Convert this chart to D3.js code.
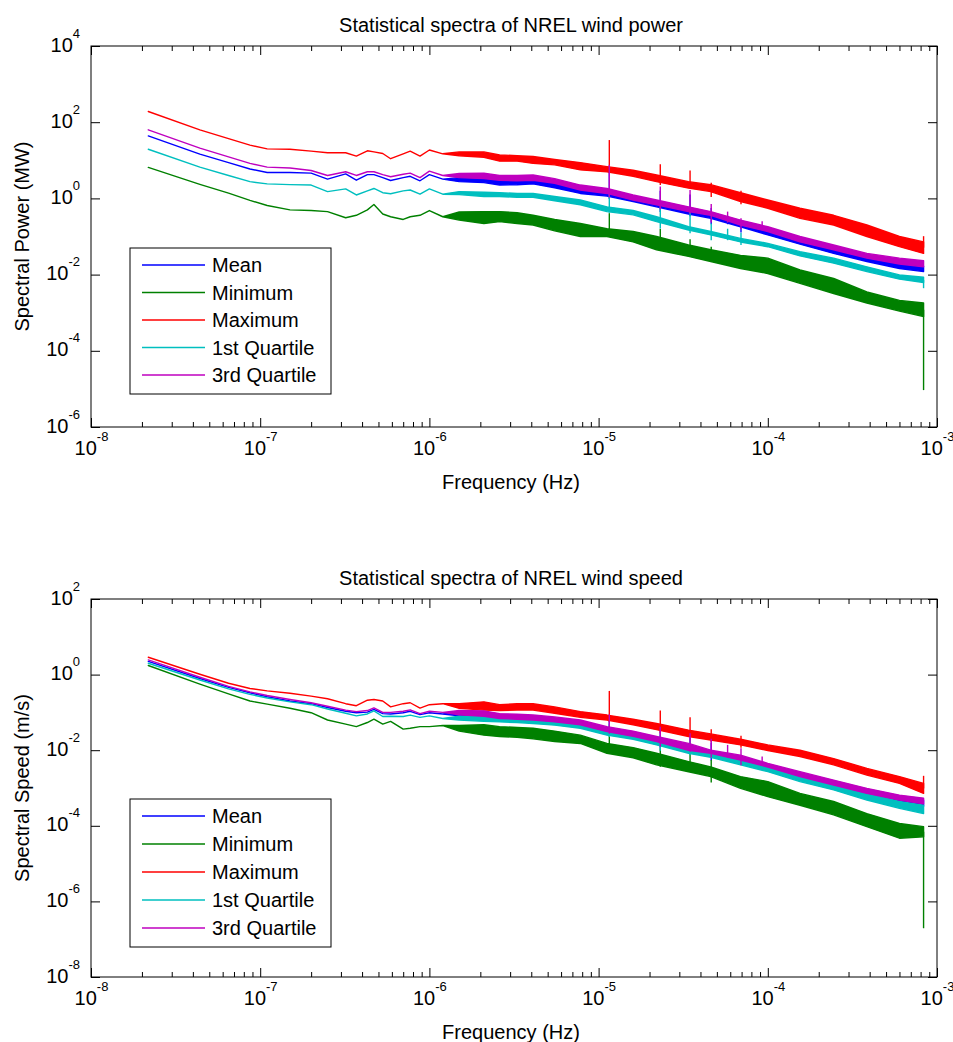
<!DOCTYPE html>
<html>
<head>
<meta charset="utf-8">
<script src="https://cdn.jsdelivr.net/npm/d3@7"></script>
<style>
  body { margin: 0; background: #fff; }
  svg text { font-family: "Liberation Sans", Arial, Helvetica, sans-serif; fill: #000; }
</style>
</head>
<body>
<svg id="chart" width="953" height="1042"></svg>
<script>
// Series names / colours (MATLAB default order)
const seriesNames = ["Mean", "Minimum", "Maximum", "1st Quartile", "3rd Quartile"];
const seriesColors = ["#0000ff", "#008000", "#ff0000", "#00bfbf", "#bf00bf"];

// Tick values
const xTicks = [1e-8, 1e-7, 1e-6, 1e-5, 1e-4, 1e-3];
const powerTicks = [1e4, 1e2, 1e0, 1e-2, 1e-4, 1e-6];
const speedTicks = [1e2, 1e0, 1e-2, 1e-4, 1e-6, 1e-8];

// Frequencies (Hz): low end drawn as a single line, high end as a noisy band
const freqsLine = [2.18e-8, 4.4e-8, 6.5e-8, 8.7e-8, 1.1e-7, 1.5e-7, 2.0e-7, 2.5e-7, 3.2e-7, 3.7e-7,
    4.3e-7, 4.7e-7, 5.3e-7, 5.9e-7, 7.0e-7, 7.7e-7, 8.8e-7, 1.0e-6, 1.2e-6];
const freqsBand = [1.5e-6, 2.1e-6, 2.6e-6, 3.3e-6, 4.1e-6, 5.5e-6, 7.8e-6, 1.12e-5, 1.6e-5, 2.2e-5,
    3.4e-5, 4.6e-5, 6.9e-5, 1.0e-4, 1.55e-4, 2.45e-4, 3.85e-4, 6.0e-4, 8.33e-4];
// Daily harmonics + last bin
const spikeFreqs = [1.157e-5, 2.315e-5, 3.472e-5, 4.63e-5, 5.787e-5, 6.944e-5, 9.26e-5, 8.33e-4];

// ---- Wind power (MW) ----
const powerMeanLine = [43.7, 14.5, 8.7, 5.9, 4.8, 4.8, 4.6, 3.2, 4.4, 3.0, 4.2, 4.2, 3.5, 2.95, 3.5, 3.8, 2.9, 4.2, 3.2];
const powerMeanHi = [3.5, 3.6, 3.0, 3.2, 3.2, 2.5, 1.82, 1.66, 1.12, 0.78, 0.49, 0.38, 0.245, 0.148, 0.081, 0.049, 0.030, 0.020, 0.0166];
const powerMeanLo = [2.75, 2.6, 2.24, 2.29, 2.4, 1.9, 1.35, 1.15, 0.83, 0.60, 0.39, 0.30, 0.18, 0.11, 0.063, 0.036, 0.022, 0.0145, 0.012];
const powerMeanSpikes = [5.6, 1.58, 1.26, 0.56, 0.35, 0.25, null, null];

const powerMinLine = [6.5, 2.34, 1.38, 0.89, 0.65, 0.50, 0.48, 0.45, 0.31, 0.36, 0.50, 0.69, 0.39, 0.33, 0.28, 0.33, 0.36, 0.48, 0.33];
const powerMinHi = [0.44, 0.45, 0.45, 0.42, 0.36, 0.28, 0.22, 0.16, 0.135, 0.10, 0.060, 0.045, 0.032, 0.027, 0.0132, 0.0079, 0.0035, 0.0021, 0.0018];
const powerMinLo = [0.27, 0.22, 0.245, 0.22, 0.20, 0.141, 0.10, 0.10, 0.072, 0.045, 0.030, 0.022, 0.0145, 0.0107, 0.0059, 0.0032, 0.0018, 0.0011, 0.00079];
const powerMinSpikes = [0.41, 0.16, 0.085, 0.054, null, null, null, 9.3e-6];

const powerMaxLine = [191, 63, 37, 25, 20, 19.5, 17.4, 15.8, 15.8, 12.9, 17.8, 16.6, 15.1, 11.0, 14.8, 17.4, 12.9, 18.6, 14.8];
const powerMaxHi = [16.6, 16.6, 13.8, 13.2, 12.6, 10.5, 8.7, 6.8, 5.5, 4.1, 2.75, 2.29, 1.41, 0.91, 0.55, 0.36, 0.20, 0.10, 0.072];
const powerMaxLo = [13.2, 12.0, 9.5, 9.5, 8.3, 7.6, 5.6, 5.0, 3.8, 2.75, 1.86, 1.51, 0.83, 0.55, 0.30, 0.20, 0.10, 0.054, 0.036];
const powerMaxSpikes = [34, 7.9, 5.4, 2.57, null, 1.58, null, 0.102];

const powerQ1Line = [19.5, 6.6, 4.0, 2.75, 2.4, 2.3, 2.24, 1.51, 1.78, 1.23, 1.58, 1.82, 1.41, 1.32, 1.58, 1.66, 1.29, 1.78, 1.29];
const powerQ1Hi = [1.51, 1.45, 1.41, 1.35, 1.35, 1.12, 0.91, 0.60, 0.48, 0.33, 0.18, 0.135, 0.089, 0.066, 0.040, 0.027, 0.016, 0.0098, 0.0085];
const powerQ1Lo = [1.26, 1.12, 1.12, 1.07, 1.07, 0.87, 0.68, 0.45, 0.37, 0.245, 0.148, 0.11, 0.072, 0.054, 0.031, 0.020, 0.012, 0.0076, 0.0062];
const powerQ1Spikes = [1.35, 0.60, 0.45, 0.22, 0.16, 0.126, null, 0.0044];

const powerQ3Line = [63, 20.9, 12.3, 8.3, 6.6, 6.3, 5.4, 4.0, 5.0, 4.0, 5.0, 5.0, 4.2, 3.7, 4.3, 4.6, 3.5, 5.2, 4.0];
const powerQ3Hi = [4.5, 4.6, 4.0, 4.0, 4.1, 3.3, 2.24, 1.82, 1.23, 0.91, 0.60, 0.45, 0.27, 0.18, 0.10, 0.060, 0.036, 0.027, 0.023];
const powerQ3Lo = [3.5, 3.3, 3.0, 2.9, 3.0, 2.5, 1.66, 1.35, 0.91, 0.68, 0.45, 0.36, 0.20, 0.135, 0.072, 0.045, 0.027, 0.019, 0.016];
const powerQ3Spikes = [7.6, 2.04, 1.66, 0.71, 0.45, 0.30, 0.25, null];

// ---- Wind speed (m/s) ----
const speedMeanLine = [2.24, 0.79, 0.46, 0.33, 0.26, 0.20, 0.17, 0.135, 0.107, 0.098, 0.102, 0.120, 0.093, 0.091, 0.098, 0.107, 0.087, 0.098, 0.091];
const speedMeanHi = [0.102, 0.100, 0.085, 0.081, 0.078, 0.069, 0.056, 0.035, 0.0275, 0.0195, 0.0129, 0.0093, 0.0060, 0.0041, 0.00245, 0.00148, 0.00089, 0.00059, 0.00048];
const speedMeanLo = [0.081, 0.074, 0.063, 0.060, 0.056, 0.051, 0.042, 0.028, 0.0214, 0.0151, 0.0098, 0.0074, 0.0047, 0.0031, 0.0018, 0.00107, 0.00065, 0.00044, 0.00033];
const speedMeanSpikes = [0.071, 0.032, 0.022, 0.016, null, null, null, null];

const speedMinLine = [1.74, 0.56, 0.31, 0.20, 0.166, 0.129, 0.098, 0.063, 0.049, 0.042, 0.054, 0.066, 0.049, 0.058, 0.036, 0.038, 0.042, 0.042, 0.045];
const speedMinHi = [0.045, 0.047, 0.042, 0.040, 0.038, 0.032, 0.025, 0.0151, 0.0117, 0.0083, 0.0050, 0.0036, 0.0020, 0.00148, 0.00072, 0.00044, 0.00021, 0.000115, 0.000095];
const speedMinLo = [0.032, 0.025, 0.023, 0.022, 0.020, 0.017, 0.0151, 0.0083, 0.0063, 0.0041, 0.0027, 0.0020, 0.00098, 0.00059, 0.00035, 0.000195, 0.000095, 0.000047, 0.000051];
const speedMinSpikes = [0.042, 0.0112, 0.010, 0.0055, null, null, null, 1.95e-7];

const speedMaxLine = [2.88, 1.02, 0.59, 0.43, 0.37, 0.32, 0.27, 0.23, 0.17, 0.15, 0.21, 0.22, 0.20, 0.14, 0.17, 0.18, 0.13, 0.16, 0.17];
const speedMaxHi = [0.17, 0.19, 0.16, 0.17, 0.17, 0.14, 0.105, 0.085, 0.066, 0.051, 0.034, 0.027, 0.0195, 0.0138, 0.0100, 0.0060, 0.0033, 0.0020, 0.00132];
const speedMaxLo = [0.129, 0.115, 0.112, 0.115, 0.115, 0.095, 0.074, 0.063, 0.047, 0.035, 0.023, 0.0186, 0.0138, 0.0098, 0.0068, 0.0041, 0.0022, 0.00132, 0.00072];
const speedMaxSpikes = [0.37, 0.112, 0.074, 0.036, null, 0.024, null, 0.0021];

const speedQ1Line = [2.0, 0.72, 0.42, 0.30, 0.24, 0.19, 0.16, 0.123, 0.095, 0.081, 0.091, 0.110, 0.078, 0.079, 0.078, 0.085, 0.074, 0.081, 0.069];
const speedQ1Hi = [0.079, 0.078, 0.078, 0.072, 0.069, 0.062, 0.051, 0.034, 0.026, 0.0186, 0.0112, 0.0083, 0.0055, 0.0036, 0.0020, 0.0012, 0.00072, 0.00044, 0.00035];
const speedQ1Lo = [0.063, 0.058, 0.056, 0.054, 0.051, 0.046, 0.038, 0.025, 0.0195, 0.0138, 0.0083, 0.0065, 0.0041, 0.0027, 0.00148, 0.00089, 0.00048, 0.00029, 0.00021];
const speedQ1Spikes = [0.050, 0.025, 0.018, null, null, null, null, null];

const speedQ3Line = [2.45, 0.85, 0.49, 0.35, 0.28, 0.22, 0.18, 0.145, 0.115, 0.105, 0.112, 0.132, 0.100, 0.100, 0.107, 0.117, 0.093, 0.107, 0.100];
const speedQ3Hi = [0.112, 0.110, 0.093, 0.089, 0.085, 0.076, 0.063, 0.042, 0.032, 0.023, 0.0151, 0.0100, 0.0074, 0.0045, 0.0027, 0.00162, 0.00098, 0.00065, 0.00054];
const speedQ3Lo = [0.087, 0.079, 0.069, 0.066, 0.063, 0.056, 0.047, 0.031, 0.0234, 0.017, 0.0100, 0.0083, 0.0055, 0.0036, 0.0020, 0.0012, 0.00072, 0.00048, 0.00038];
const speedQ3Spikes = [0.089, 0.042, 0.028, 0.020, 0.0138, 0.0112, 0.0068, null];

// Layout
const plotLeft = 91;
const plotRight = 937;
const fontMain = "20px";
const fontExp = "13px";

const panels = [
    {
        title: "Statistical spectra of NREL wind power",
        yLabel: "Spectral Power (MW)",
        top: 46, bottom: 427,
        yDomain: [1e-6, 1e4],
        yTicks: powerTicks,
        series: [
            {line: powerMeanLine, hi: powerMeanHi, lo: powerMeanLo, spikes: powerMeanSpikes},
            {line: powerMinLine, hi: powerMinHi, lo: powerMinLo, spikes: powerMinSpikes},
            {line: powerMaxLine, hi: powerMaxHi, lo: powerMaxLo, spikes: powerMaxSpikes},
            {line: powerQ1Line, hi: powerQ1Hi, lo: powerQ1Lo, spikes: powerQ1Spikes},
            {line: powerQ3Line, hi: powerQ3Hi, lo: powerQ3Lo, spikes: powerQ3Spikes},
        ],
        legend: {x: 130, y: 248, w: 201, h: 146, step: 27.5},
    },
    {
        title: "Statistical spectra of NREL wind speed",
        yLabel: "Spectral Speed (m/s)",
        top: 599, bottom: 977,
        yDomain: [1e-8, 1e2],
        yTicks: speedTicks,
        series: [
            {line: speedMeanLine, hi: speedMeanHi, lo: speedMeanLo, spikes: speedMeanSpikes},
            {line: speedMinLine, hi: speedMinHi, lo: speedMinLo, spikes: speedMinSpikes},
            {line: speedMaxLine, hi: speedMaxHi, lo: speedMaxLo, spikes: speedMaxSpikes},
            {line: speedQ1Line, hi: speedQ1Hi, lo: speedQ1Lo, spikes: speedQ1Spikes},
            {line: speedQ3Line, hi: speedQ3Hi, lo: speedQ3Lo, spikes: speedQ3Spikes},
        ],
        legend: {x: 130, y: 799, w: 201, h: 148, step: 28},
    },
];

// "10" with a raised exponent
const powerLabel = function(text, d) {
    const e = Math.round(Math.log10(d));
    text.text(null);
    text.append("tspan").style("font-size", fontMain).text("10");
    text.append("tspan").style("font-size", fontExp).attr("dy", -14).text(e);
};

const drawPanel = function(svg, p) {
    const x = d3.scaleLog().domain([1e-8, 1e-3]).range([plotLeft, plotRight]);
    const y = d3.scaleLog().domain(p.yDomain).range([p.bottom, p.top]);
    const g = svg.append("g");

    g.append("rect")
        .attr("x", plotLeft).attr("y", p.top)
        .attr("width", plotRight - plotLeft).attr("height", p.bottom - p.top)
        .attr("fill", "#fff");

    // Series, in plot order so Q3 ends on top
    p.series.forEach((s, i) => {
        const color = seriesColors[i];
        const pts = freqsLine.map((f, j) => ({f: f, hi: s.line[j], lo: s.line[j]}))
            .concat(freqsBand.map((f, j) => ({f: f, hi: s.hi[j], lo: s.lo[j]})));
        const area = d3.area()
            .x(d => x(d.f))
            .y0(d => y(d.lo))
            .y1(d => y(d.hi));
        g.append("path")
            .datum(pts)
            .attr("d", area)
            .attr("fill", color)
            .attr("stroke", color)
            .attr("stroke-width", 1.4)
            .attr("stroke-linejoin", "round");

        spikeFreqs.forEach((f, k) => {
            const peak = s.spikes[k];
            if (peak === null) { return; }
            const j = Math.min(d3.bisectLeft(freqsBand, f), freqsBand.length - 1);
            const base = Math.sqrt(s.hi[j] * s.lo[j]);
            g.append("line")
                .attr("x1", x(f)).attr("x2", x(f))
                .attr("y1", y(base)).attr("y2", y(peak))
                .attr("stroke", color)
                .attr("stroke-width", 1.4);
        });
    });

    // Minor x ticks from the scale's own log ticks
    const minorX = x.ticks().filter(v => !xTicks.some(t => Math.abs(t - v) / t < 1e-6));

    const styleAxis = function(a) {
        a.select(".domain").remove();
        a.selectAll(".tick line").attr("stroke", "#000").attr("stroke-width", 1);
    };

    // bottom
    g.append("g")
        .attr("transform", `translate(0,${p.bottom})`)
        .call(d3.axisBottom(x).tickValues(minorX).tickSize(-5).tickSizeOuter(0).tickFormat(""))
        .call(styleAxis);
    g.append("g")
        .attr("transform", `translate(0,${p.bottom})`)
        .call(d3.axisBottom(x).tickValues(xTicks).tickSize(-9).tickSizeOuter(0))
        .call(styleAxis)
        .call(a => a.selectAll(".tick text")
            .attr("y", 28).attr("dy", 0)
            .each(function(d) { powerLabel(d3.select(this), d); }));
    // top
    g.append("g")
        .attr("transform", `translate(0,${p.top})`)
        .call(d3.axisTop(x).tickValues(minorX).tickSize(-5).tickSizeOuter(0).tickFormat(""))
        .call(styleAxis);
    g.append("g")
        .attr("transform", `translate(0,${p.top})`)
        .call(d3.axisTop(x).tickValues(xTicks).tickSize(-9).tickSizeOuter(0).tickFormat(""))
        .call(styleAxis);
    // left
    g.append("g")
        .attr("transform", `translate(${plotLeft},0)`)
        .call(d3.axisLeft(y).tickValues(p.yTicks).tickSize(-9).tickSizeOuter(0).tickPadding(11))
        .call(styleAxis)
        .call(a => a.selectAll(".tick text")
            .attr("dy", 5)
            .each(function(d) { powerLabel(d3.select(this), d); }));
    // right
    g.append("g")
        .attr("transform", `translate(${plotRight},0)`)
        .call(d3.axisRight(y).tickValues(p.yTicks).tickSize(-9).tickSizeOuter(0).tickFormat(""))
        .call(styleAxis);

    // frame
    g.append("rect")
        .attr("x", plotLeft).attr("y", p.top)
        .attr("width", plotRight - plotLeft).attr("height", p.bottom - p.top)
        .attr("fill", "none")
        .attr("stroke", "#000")
        .attr("stroke-width", 1);

    // legend
    const L = p.legend;
    const lg = g.append("g");
    lg.append("rect")
        .attr("x", L.x).attr("y", L.y).attr("width", L.w).attr("height", L.h)
        .attr("fill", "#fff").attr("stroke", "#000").attr("stroke-width", 1);
    seriesNames.forEach((name, i) => {
        const ry = L.y + 17 + i * L.step;
        lg.append("line")
            .attr("x1", L.x + 12).attr("x2", L.x + 75)
            .attr("y1", ry).attr("y2", ry)
            .attr("stroke", seriesColors[i])
            .attr("stroke-width", 1.4);
        lg.append("text")
            .attr("x", L.x + 82).attr("y", ry + 7)
            .style("font-size", fontMain)
            .text(name);
    });

    // titles and axis labels
    svg.append("text")
        .attr("x", (plotLeft + plotRight) / 2 - 3).attr("y", p.top - 14)
        .attr("text-anchor", "middle")
        .style("font-size", fontMain)
        .text(p.title);
    svg.append("text")
        .attr("x", (plotLeft + plotRight) / 2 - 3).attr("y", p.bottom + 62)
        .attr("text-anchor", "middle")
        .style("font-size", fontMain)
        .text("Frequency (Hz)");
    svg.append("text")
        .attr("transform", `translate(29,${(p.top + p.bottom) / 2}) rotate(-90)`)
        .attr("text-anchor", "middle")
        .style("font-size", fontMain)
        .text(p.yLabel);
};

const svg = d3.select("#chart");
svg.append("rect").attr("width", 953).attr("height", 1042).attr("fill", "#fff");
panels.forEach(p => drawPanel(svg, p));
</script>
</body>
</html>
